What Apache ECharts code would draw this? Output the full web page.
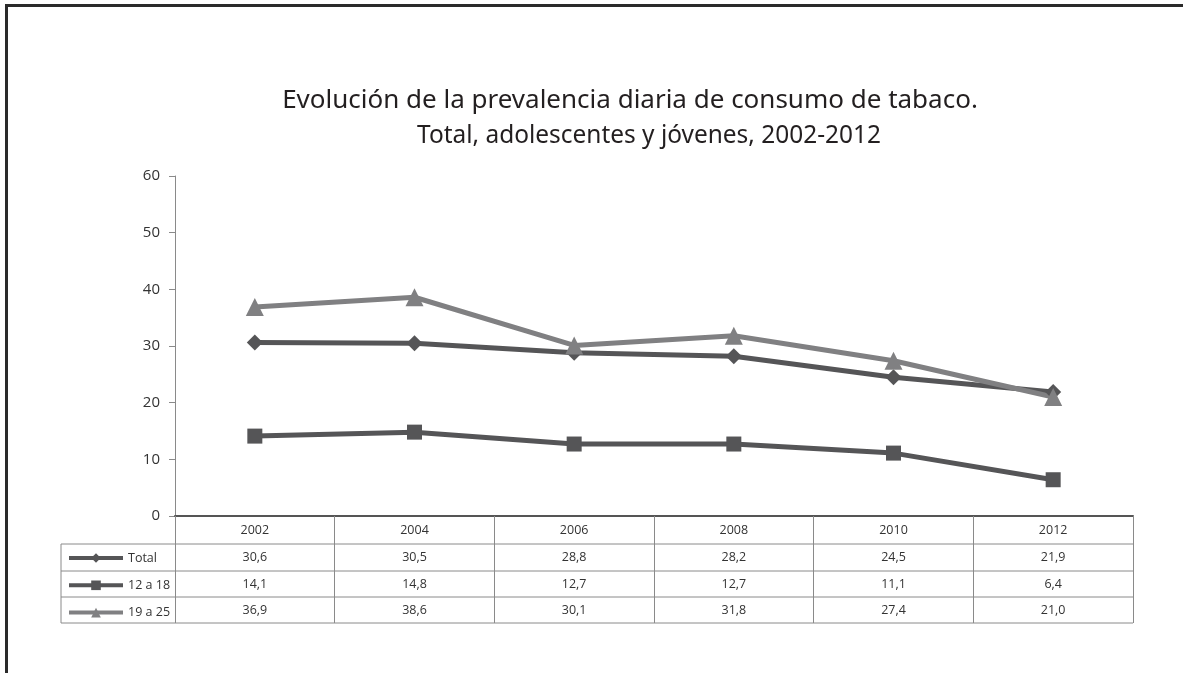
<!DOCTYPE html>
<html><head><meta charset="utf-8">
<script src="https://cdn.jsdelivr.net/npm/echarts@6/dist/echarts.min.js"></script>
<style>html,body{margin:0;padding:0;background:#fff}#c{width:1183px;height:673px}</style>
</head><body><div id="c"></div>
<script>
// ---- data ----
const years = ['2002', '2004', '2006', '2008', '2010', '2012'];
const seriesNames = ['Total', '12 a 18', '19 a 25'];
const total = [30.6, 30.5, 28.8, 28.2, 24.5, 21.9];
const age12to18 = [14.1, 14.8, 12.7, 12.7, 11.1, 6.4];
const age19to25 = [36.9, 38.6, 30.1, 31.8, 27.4, 21.0];
const titleLine1 = 'Evolución de la prevalencia diaria de consumo de tabaco.';
const titleLine2 = 'Total, adolescentes y jóvenes, 2002-2012';

const fmt = v => v.toFixed(1).replace('.', ',');
const chart = echarts.init(document.getElementById('c'), null, {renderer: 'canvas'});

const GRID_L = 175, GRID_R = 50, GRID_T = 176, GRID_B = 157;
const W = 1183, H = 673;
const rowLines = [544, 571, 597, 623];
const tableLeft = 61, tableRight = W - GRID_R;
const lineGray = '#8a8a8a';
const tableFont = '"Open Sans", "Noto Sans", sans-serif';
const darkCol = '#555557', lightCol = '#808082';

function rowAxis(values, offset) {
  return {
    type: 'category', gridIndex: 0, position: 'bottom', offset: offset,
    data: values.map(fmt),
    axisLine: {show: false}, axisTick: {show: false}, splitLine: {show: false},
    axisLabel: {margin: 7, fontSize: 12.5, color: '#333', fontFamily: tableFont}
  };
}

const graphics = [
  // frame (top and left)
  {type: 'rect', shape: {x: 5, y: 4, width: W - 5, height: 3}, style: {fill: '#2a2a2a'}, silent: true},
  {type: 'rect', shape: {x: 5, y: 4, width: 3, height: H - 4}, style: {fill: '#2a2a2a'}, silent: true},
  // titles
  {type: 'text', x: 630, y: 101, style: {text: titleLine1, fontSize: 26, fontFamily: '"Noto Sans", sans-serif', fill: '#231f20', align: 'center', verticalAlign: 'middle'}},
  {type: 'text', x: 649, y: 136, scaleX: 0.94, style: {text: titleLine2, fontSize: 26, fontFamily: '"Noto Sans", sans-serif', fill: '#231f20', align: 'center', verticalAlign: 'middle'}},
  // table left border
  {type: 'line', shape: {x1: tableLeft, y1: rowLines[0], x2: tableLeft, y2: rowLines[3]}, style: {stroke: lineGray, lineWidth: 1}, silent: true}
];
rowLines.forEach(y => graphics.push({type: 'line', shape: {x1: tableLeft, y1: y, x2: tableRight, y2: y}, style: {stroke: lineGray, lineWidth: 1}, silent: true}));

const option = {
  backgroundColor: '#fff',
  animation: false,
  grid: {left: GRID_L, right: GRID_R, top: GRID_T, bottom: GRID_B, containLabel: false},
  legend: {
    data: seriesNames, orient: 'vertical', left: 67, top: 551.5,
    itemWidth: 54, itemHeight: 12, itemGap: 14.3,
    lineStyle: {width: 4},
    textStyle: {fontSize: 12.5, color: '#333', fontFamily: tableFont},
    padding: 0
  },
  xAxis: [
    {
      type: 'category', data: years, boundaryGap: true, position: 'bottom',
      axisLine: {show: true, lineStyle: {color: '#555', width: 2}},
      axisTick: {show: true, length: 107, lineStyle: {color: lineGray, width: 1}},
      axisLabel: {margin: 8, fontSize: 12.5, color: '#333', fontFamily: tableFont},
      splitLine: {show: false}, z: 3
    },
    rowAxis(total, 28),
    rowAxis(age12to18, 55),
    rowAxis(age19to25, 81)
  ],
  yAxis: {
    type: 'value', min: 0, max: 60, interval: 10,
    axisLine: {show: true, lineStyle: {color: lineGray, width: 1}},
    axisTick: {show: true, length: 6, lineStyle: {color: lineGray}},
    splitLine: {show: false},
    axisLabel: {fontSize: 15, color: '#333', margin: 15, fontFamily: tableFont}
  },
  series: [
    {name: seriesNames[0], type: 'line', data: total, xAxisIndex: 0, symbol: 'diamond', symbolSize: 16,
     lineStyle: {width: 5, color: darkCol}, itemStyle: {color: darkCol}},
    {name: seriesNames[1], type: 'line', data: age12to18, xAxisIndex: 0, symbol: 'rect', symbolSize: 15,
     lineStyle: {width: 5, color: darkCol}, itemStyle: {color: darkCol}},
    {name: seriesNames[2], type: 'line', data: age19to25, xAxisIndex: 0, symbol: 'triangle', symbolSize: 18,
     lineStyle: {width: 5, color: lightCol}, itemStyle: {color: lightCol}}
  ],
  graphic: graphics
};
chart.setOption(option);
</script>
</body></html>
